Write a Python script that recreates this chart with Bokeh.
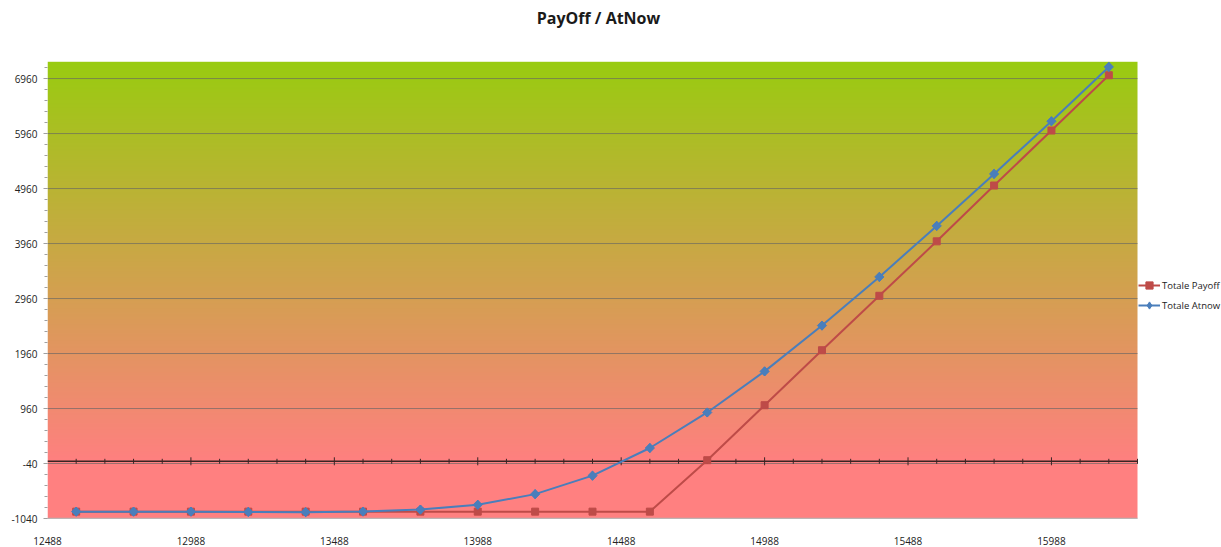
import numpy as np
from bokeh.plotting import figure
from bokeh.models import FixedTicker, Legend, LegendItem, Range1d, Label, ColumnDataSource
from bokeh.embed import file_html
from bokeh.resources import INLINE

# ---- data ----
strikes = [12588, 12788, 12988, 13188, 13388, 13588, 13788, 13988, 14188, 14388,
           14588, 14788, 14988, 15188, 15388, 15588, 15788, 15988, 16188]
totale_payoff = [-915, -915, -915, -915, -915, -915, -915, -915, -915, -915,
                 -915, 20, 1020, 2020, 3010, 4000, 5015, 6015, 7020]
totale_atnow = [-915, -915, -915, -920, -925, -914, -878, -790, -597, -261,
                242, 888, 1635, 2468, 3353, 4281, 5226, 6184, 7172]
x_ticks = [12488, 12988, 13488, 13988, 14488, 14988, 15488, 15988]
y_ticks = [-1040, -40, 960, 1960, 2960, 3960, 4960, 5960, 6960]
title_text = "PayOff / AtNow"

# plot-area extents (the frame itself runs to the right and top canvas edges,
# leaving room for the legend and title inside it)
x0, x1 = 12488, 16288
y0, y1 = -1040, 7265
W, H = 1221, 547
left, bottom, area_right, area_top = 47, 23, 1137, 62
xppu = (area_right - left) / (x1 - x0)
yppu = (H - bottom - area_top) / (y1 - y0)
x_view_end = x0 + (W - left) / xppu
y_view_end = y0 + (H - bottom) / yppu

p = figure(width=W, height=H, output_backend="svg", toolbar_location=None,
           x_range=Range1d(x0, x_view_end), y_range=Range1d(y0, y_view_end),
           min_border_left=left, min_border_right=0, min_border_top=0,
           min_border_bottom=bottom)
p.background_fill_color = "white"
p.border_fill_color = "white"
p.outline_line_color = None

# ---- background gradient ----
N = 400
vals = y0 + (np.arange(N) + 0.5) * (y1 - y0) / N
green = np.array([153, 204, 16])
pink = np.array([255, 128, 128])
t = np.clip((vals - 0) / (y1 - 0), 0, 1)[:, None]
cols = (pink * (1 - t) + green * t).astype(np.uint32)
img = np.empty((N, 1), dtype=np.uint32)
view = img.view(dtype=np.uint8).reshape((N, 1, 4))
view[:, 0, 0] = cols[:, 0]
view[:, 0, 1] = cols[:, 1]
view[:, 0, 2] = cols[:, 2]
view[:, 0, 3] = 255
p.image_rgba(image=[img], x=x0, y=y0, dw=x1 - x0, dh=y1 - y0, level="image")

# ---- axes ----
p.xaxis.ticker = FixedTicker(ticks=x_ticks)
p.xaxis.axis_line_color = None
p.xaxis.major_tick_line_color = None
p.xaxis.minor_tick_line_color = None
p.xaxis.major_label_text_font = "Open Sans"
p.xaxis.major_label_text_font_size = "10px"
p.xaxis.major_label_text_color = "#222222"
p.xaxis.major_label_standoff = 12

minor_y = list(np.arange(y0, y1, 200))
p.yaxis.ticker = FixedTicker(ticks=y_ticks, minor_ticks=minor_y)
p.yaxis.major_label_overrides = {v: str(v) for v in y_ticks}
p.yaxis.axis_line_color = None
p.yaxis.major_tick_line_color = "#a0a0a0"
p.yaxis.minor_tick_line_color = "#a0a0a0"
p.yaxis.major_tick_out = 4
p.yaxis.major_tick_in = 0
p.yaxis.minor_tick_out = 3
p.yaxis.minor_tick_in = 0
p.yaxis.major_label_text_font = "Open Sans"
p.yaxis.major_label_text_font_size = "10px"
p.yaxis.major_label_text_color = "#222222"
p.yaxis.major_label_standoff = 6

p.xgrid.grid_line_color = None
p.ygrid.grid_line_color = None

# horizontal gridlines limited to the plot area
p.segment(x0=[x0] * len(y_ticks), x1=[x1] * len(y_ticks), y0=y_ticks, y1=y_ticks,
          line_color="#666666", line_alpha=0.65, line_width=1, level="underlay")
# bottom edge of plot area
p.segment(x0=[x0], x1=[x1], y0=[y0], y1=[y0], line_color="#b0b0b0", line_width=1.5,
          level="underlay")
# horizontal axis line crossing at 0
p.segment(x0=[x0], x1=[x1], y0=[0], y1=[0], line_color="#3a2424", line_width=1.5)
minor_x = [v for v in range(x0 + 100, x1 + 1, 100) if (v - x0) % 500 != 0]
p.scatter(x=x_ticks[1:], y=[0] * (len(x_ticks) - 1), marker="dash", size=8,
          angle=np.pi / 2, line_color="#3a2424", line_width=1)
p.scatter(x=minor_x, y=[0] * len(minor_x), marker="dash", size=5,
          angle=np.pi / 2, line_color="#3a2424", line_width=1)

# ---- series ----
red = "#BE4B48"
blue = "#4A7EBB"
src = ColumnDataSource(data=dict(x=strikes, payoff=totale_payoff, atnow=totale_atnow))
lp = p.line("x", "payoff", source=src, line_color=red, line_width=2)
sp = p.scatter("x", "payoff", source=src, marker="square", size=7, fill_color=red, line_color=red)
la = p.line("x", "atnow", source=src, line_color=blue, line_width=2)
# diamond marker used for the legend; the rotated squares drawn on top give the plot markers
lg_a = p.scatter("x", "atnow", source=src, marker="diamond", size=9,
                 fill_color=blue, line_color=blue)
sa = p.scatter("x", "atnow", source=src, marker="square", size=6.5, angle=np.pi / 4,
               fill_color=blue, line_color=blue)

legend = Legend(items=[LegendItem(label="Totale Payoff", renderers=[lp, sp]),
                       LegendItem(label="Totale Atnow", renderers=[la, lg_a])],
                location=(area_right - left + 1, H - bottom - 320), orientation="vertical")
legend.border_line_color = None
legend.background_fill_alpha = 0
legend.padding = 0
legend.margin = 0
legend.spacing = 2
legend.glyph_width = 22
legend.glyph_height = 18
legend.label_standoff = 2
legend.label_text_font = "Open Sans"
legend.label_text_font_size = "9.5px"
legend.label_text_color = "#222222"
p.add_layout(legend)

# title
p.add_layout(Label(x=598 - left, y=H - bottom - 23, x_units="screen", y_units="screen",
                   text=title_text, text_align="center", text_baseline="middle",
                   text_font="Open Sans", text_font_size="16px", text_font_style="bold",
                   text_color="#1a1a1a"))

open("out.html", "w").write(file_html(p, INLINE))
